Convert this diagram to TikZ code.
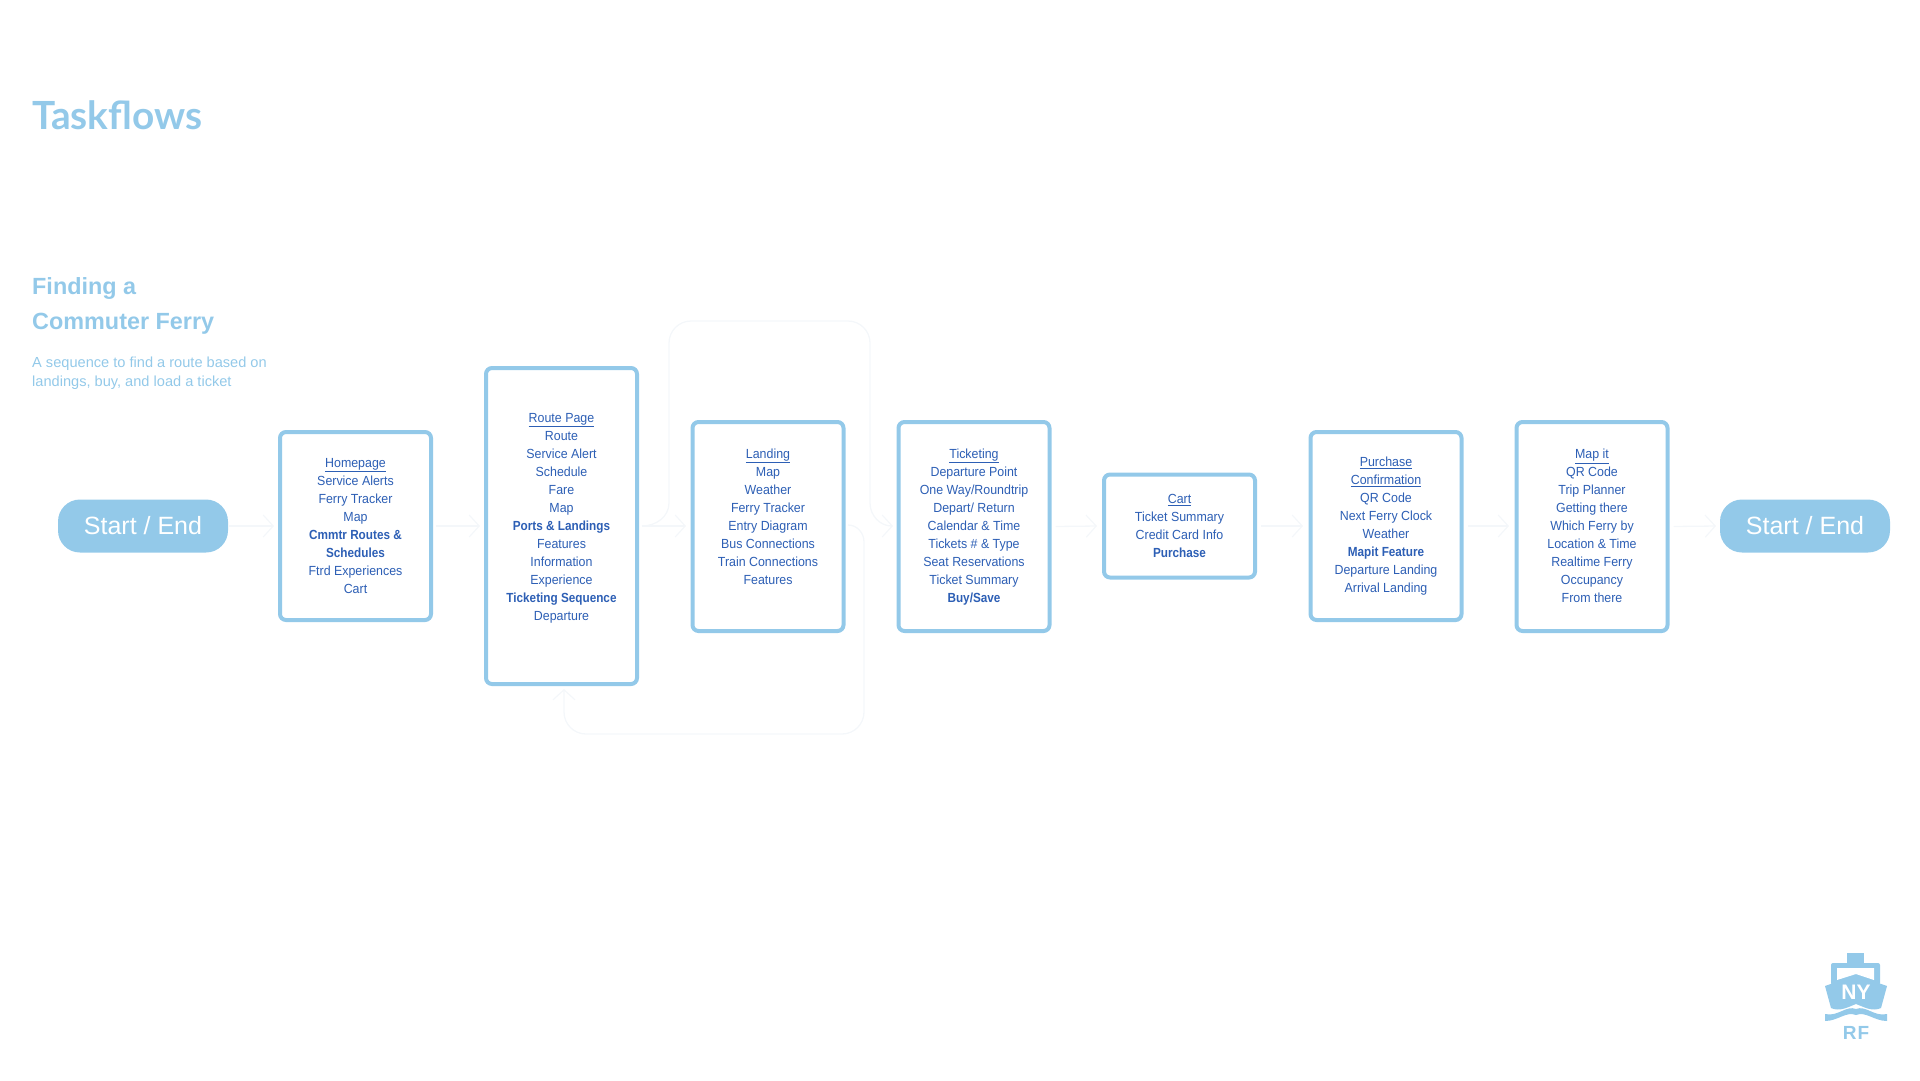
\documentclass[tikz,border=0pt]{standalone}
\usepackage{fontspec}
\setmainfont{Liberation Sans}
\newfontfamily\titlefont{Lato}
\newfontfamily\bodyfont{Liberation Sans}[FakeStretch=0.94,BoldFeatures={FakeStretch=0.89}]
\usetikzlibrary{arrows.meta}
\definecolor{sky}{HTML}{93C9E9}
\definecolor{ink}{HTML}{2D5FB5}
\definecolor{faint}{HTML}{F4F7FA}
\newcommand{\ul}[1]{\underline{#1}}
\tikzset{
  x=1pt,y=-1pt,
  flowbox/.style={draw=sky,line width=4pt,rounded corners=6pt,fill=white,minimum width=151pt,inner sep=0pt},
  flowtext/.style={text=ink,align=center,font=\bodyfont\fontsize{13.2}{18}\selectfont,inner sep=0pt},
  terminal/.style={fill=sky,rounded corners=22pt,minimum width=170pt,minimum height=53pt,text=white,font=\fontsize{25}{30}\selectfont,inner sep=0pt},
  faintline/.style={draw=faint,line width=1.3pt},
  chev/.style={-{Straight Barb[length=10pt,width=22pt,line width=1.2pt]},draw=faint,line width=1.3pt},
  head/.style={text=sky,anchor=base west,inner sep=0pt},
}
\begin{document}
\begin{tikzpicture}
\useasboundingbox (0,0) rectangle (1920,1080);
\node[head,font=\titlefont\bfseries\fontsize{38.8}{38}\selectfont] (title) at (32,129) {Taskflows};
\node[head,font=\bfseries\fontsize{23.4}{24}\selectfont] (h1) at (32,294) {Finding a};
\node[head,font=\bfseries\fontsize{23.4}{24}\selectfont] (h2) at (32,329) {Commuter Ferry};
\node[head,font=\fontsize{14.6}{14.6}\selectfont] (s1) at (32,367) {A sequence to find a route based on};
\node[head,font=\fontsize{14.6}{14.6}\selectfont] (s2) at (32,386) {landings, buy, and load a ticket};

\node[terminal] (st) at (143,526) {Start / End};
\node[terminal] (en) at (1805,526) {Start / End};
\node[flowbox,minimum height=188pt] (home) at (355.5,526) {};
\node[flowbox,minimum height=316pt] (route) at (561.5,526) {};
\node[flowbox,minimum height=209pt] (land) at (768,526.5) {};
\node[flowbox,minimum height=209pt] (tick) at (974,526.5) {};
\node[flowbox,minimum height=103pt] (cart) at (1179.5,526) {};
\node[flowbox,minimum height=188pt] (conf) at (1386,526) {};
\node[flowbox,minimum height=209pt] (mapit) at (1592,526.5) {};

\coordinate (a2) at (274,526);
\draw[chev] (st.east) ++(1,0) -- (a2);
\coordinate (b2) at (480,526);
\draw[chev] (home.east) ++(3,0) -- (b2);
\coordinate (c2) at (686,526);
\draw[chev] (route.east) ++(3,0) -- (c2);
\coordinate (d2) at (1097,526);
\draw[chev] (tick.east) ++(4,0) -- (d2);
\coordinate (e2) at (1303,526);
\draw[chev] (cart.east) ++(4,0) -- (e2);
\coordinate (f2) at (1509,526);
\draw[chev] (conf.east) ++(4,0) -- (f2);
\coordinate (g2) at (1716,526);
\draw[chev] (mapit.east) ++(4,0) -- (g2);
% loop over Landing
\coordinate (u1) at (642,526); \coordinate (u2) at (669,503); \coordinate (u3) at (870,503); \coordinate (u4) at (893,526);
\draw[faintline] (u1) to[out=0,in=-90] (u2);
\draw[faintline,rounded corners=22pt] (u2) -- (669,321) -- (870,321) -- (u3);
\draw[chev] (u3) to[out=-90,in=180] (u4);
% loop under
\coordinate (v1) at (848,525); \coordinate (v2) at (864,542); \coordinate (v3) at (564,689);
\draw[faintline] (v1) to[out=0,in=90] (v2);
\draw[chev,rounded corners=22pt] (v2) -- (864,734) -- (564,734) -- (v3);

\node[flowtext] (thome) at (355.5,526) {\ul{Homepage}\\Service Alerts\hspace{3pt}\\Ferry Tracker\\Map\\\textbf{Cmmtr Routes \&}\\\textbf{Schedules}\\Ftrd Experiences\\Cart};
\node[flowtext] (troute) at (561.5,518) {\ul{Route Page}\\Route\\Service Alert\\Schedule\\Fare\\Map\\\textbf{Ports \& Landings}\\Features\\Information\\Experience\\\textbf{Ticketing Sequence}\\Departure};
\node[flowtext] (tland) at (768,516.5) {\ul{Landing}\\Map\\Weather\\Ferry Tracker\\Entry Diagram\\Bus Connections\\Train Connections\\Features};
\node[flowtext] (ttick) at (974,527) {\ul{Ticketing}\\Departure Point\\One Way/Roundtrip\\Depart/ Return\\Calendar \& Time\\Tickets \# \& Type\\Seat Reservations\\Ticket Summary\\\textbf{Buy/Save}};
\node[flowtext] (tcart) at (1179.5,526) {\ul{Cart}\\Ticket Summary\\Credit Card Info\\\textbf{Purchase}};
\node[flowtext] (tconf) at (1386,526.5) {\ul{Purchase}\\\ul{Confirmation}\\QR Code\\Next Ferry Clock\\Weather\\\textbf{Mapit Feature}\\Departure Landing\hspace{3pt}\\Arrival Landing};
\node[flowtext] (tmap) at (1592,526) {\ul{Map it}\\QR Code\\Trip Planner\\Getting there\\Which Ferry by\\Location \& Time\\Realtime Ferry\\Occupancy\\From there};

% logo
\fill[sky] (1847,953) rectangle (1864,964);
\fill[sky,rounded corners=2pt] (1831,963) rectangle (1880,985);
\fill[white] (1837,968) -- (1874,968) -- (1874,980) -- (1856,974) -- (1837,980) -- cycle;
\fill[sky] (1825,986) -- (1856,975) -- (1887,986) -- (1881,1008) .. controls (1872,1012) and (1864,1007) .. (1856,1004) .. controls (1848,1007) and (1840,1012) .. (1831,1008) -- cycle;
\node[text=white,font=\bfseries\fontsize{21}{21}\selectfont,inner sep=0pt] (ny) at (1856,992) {NY};
\fill[sky] (1825,1014) .. controls (1838,1017) and (1846,1005) .. (1856,1009) .. controls (1866,1005) and (1874,1017) .. (1887,1014) -- (1887,1021) .. controls (1874,1021) and (1866,1011) .. (1856,1015) .. controls (1846,1011) and (1838,1021) .. (1825,1021) -- cycle;
\node[text=sky,font=\bfseries\fontsize{19}{19}\selectfont,inner sep=0pt] (rf) at (1856,1033) {R\kern1pt F};
\end{tikzpicture}
\end{document}
